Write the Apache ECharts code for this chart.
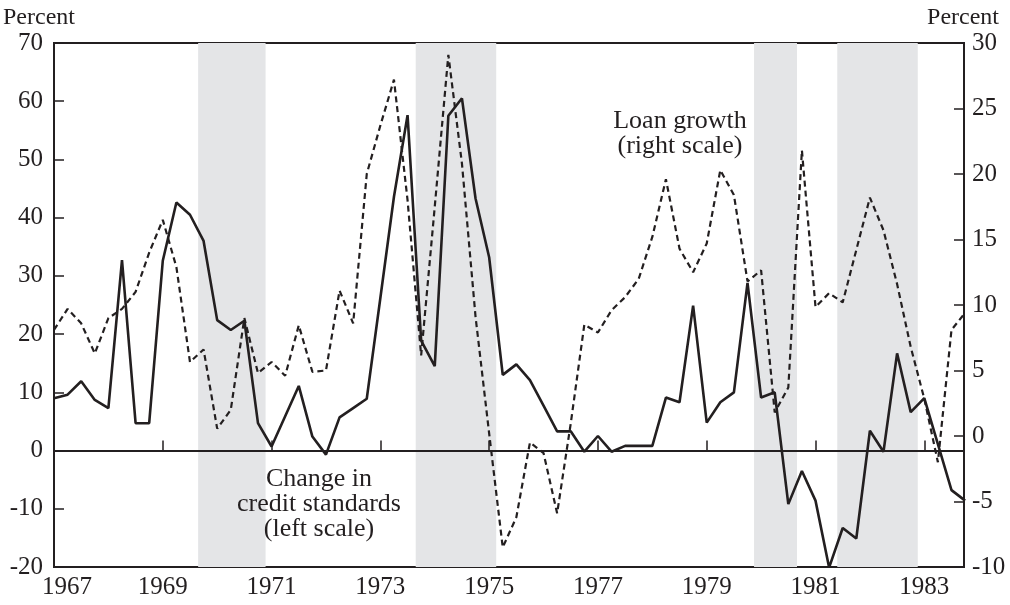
<!DOCTYPE html>
<html>
<head>
<meta charset="utf-8">
<script src="https://cdn.jsdelivr.net/npm/echarts@6/dist/echarts.min.js"></script>
<style>
  html, body { margin: 0; padding: 0; background: #fff; }
  #chart { width: 1010px; height: 605px; }
</style>
</head>
<body>
<div id="chart"></div>
<script>
// quarterly data, first quarter of 1967 onwards
const startYear = 1967
const yearLabels = [1967, 1969, 1971, 1973, 1975, 1977, 1979, 1981, 1983]
const leftTicks = [-20, -10, 0, 10, 20, 30, 40, 50, 60, 70]
const rightTicks = [-10, -5, 0, 5, 10, 15, 20, 25, 30]

// change in credit standards (left scale), percent
const creditStd = [
  9.0, 9.6, 11.9, 8.7,
  7.3, 32.7, 4.7, 4.7,
  32.6, 42.6, 40.5, 36.0,
  22.4, 20.7, 22.3, 4.7,
  0.7, 5.9, 11.1, 2.4,
  -0.7, 5.7, 7.3, 8.9,
  26.2, 43.6, 57.6, 18.9,
  14.5, 57.5, 60.5, 43.3,
  33.2, 13.0, 14.8, 12.1,
  7.7, 3.3, 3.3, -0.2,
  2.5, -0.2, 0.8, 0.8,
  0.8, 9.1, 8.3, 24.9,
  4.8, 8.3, 10.0, 28.8,
  9.1, 10.0, -9.2, -3.5,
  -8.6, -20.1, -13.3, -15.1,
  3.4, -0.2, 16.7, 6.6,
  9.0, 1.1, -6.8, -8.6
]

// loan growth (right scale), percent
const loanGrowth = [
  8.1, 9.7, 8.6, 6.3,
  9.0, 9.7, 11.0, 14.0,
  16.5, 12.9, 5.65, 6.6,
  0.56, 2.0, 9.0, 4.8,
  5.65, 4.6, 8.45, 4.9,
  5.0, 11.1, 8.6, 20.0,
  23.7, 27.2, 18.0, 6.15,
  17.5, 29.1, 20.8, 9.1,
  0.2, -8.5, -6.2, -0.5,
  -1.3, -5.9, 0.95, 8.5,
  7.9, 9.6, 10.6, 12.0,
  15.2, 19.6, 14.3, 12.5,
  14.7, 20.3, 18.4, 11.8,
  12.65, 1.8, 3.7, 21.8,
  9.85, 10.9, 10.2, 14.2,
  18.2, 15.7, 11.6, 6.8,
  2.85, -2.0, 8.1, 9.4
]

// recession shading
const recStart = [1969.65, 1973.65, 1979.87, 1981.40]
const recEnd = [1970.89, 1975.13, 1980.66, 1982.88]

const ink = '#231f20'
const serif = '"Liberation Serif", "Times New Roman", serif'

function toPairs(vals) {
  return vals.map((v, i) => [startYear + i / 4, v])
}

const chart = echarts.init(document.getElementById('chart'))

const option = {
  animation: false,
  backgroundColor: '#fff',
  grid: {
    left: 54,
    right: 46,
    top: 43,
    bottom: 38,
    show: true,
    borderColor: ink,
    borderWidth: 2
  },
  xAxis: {
    type: 'value',
    min: 1967,
    max: 1983.73,
    axisLine: { show: true, lineStyle: { color: ink, width: 2 } },
    axisTick: {
      show: true,
      inside: true,
      length: 10,
      lineStyle: { color: ink, width: 1.5 },
      customValues: yearLabels.slice(1)
    },
    axisLabel: {
      customValues: yearLabels,
      color: ink,
      fontFamily: serif,
      fontSize: 25,
      margin: 8,
      formatter: function (v) {
        return v === 1967 ? '{first|1967}' : String(v)
      },
      rich: {
        first: { padding: [0, 0, 0, 26], fontFamily: serif, fontSize: 25, color: ink }
      }
    },
    splitLine: { show: false }
  },
  yAxis: [
    {
      type: 'value',
      min: -20,
      max: 70,
      interval: 10,
      axisLine: { show: true, lineStyle: { color: ink, width: 2 } },
      axisTick: { show: true, inside: true, length: 10, lineStyle: { color: ink, width: 1.5 }, customValues: leftTicks },
      axisLabel: { color: ink, fontFamily: serif, fontSize: 25, margin: 11, customValues: leftTicks },
      splitLine: { show: false }
    },
    {
      type: 'value',
      position: 'right',
      min: -10,
      max: 30,
      interval: 5,
      axisLine: { show: true, lineStyle: { color: ink, width: 2 } },
      axisTick: { show: true, inside: true, length: 10, lineStyle: { color: ink, width: 1.5 }, customValues: rightTicks },
      axisLabel: { color: ink, fontFamily: serif, fontSize: 25, margin: 8, customValues: rightTicks },
      splitLine: { show: false }
    }
  ],
  series: [
    {
      name: 'Recessions',
      type: 'line',
      data: [],
      z: 0,
      markArea: {
        silent: true,
        z: 0,
        itemStyle: { color: '#e4e5e7' },
        data: recStart.map((s, i) => [{ xAxis: s }, { xAxis: recEnd[i] }])
      }
    },
    {
      name: 'Loan growth',
      type: 'line',
      yAxisIndex: 1,
      z: 3,
      symbol: 'none',
      lineStyle: { color: ink, width: 2.2, type: [6, 4] },
      data: toPairs(loanGrowth)
    },
    {
      name: 'Change in credit standards',
      type: 'line',
      yAxisIndex: 0,
      z: 4,
      symbol: 'none',
      lineStyle: { color: ink, width: 2.6 },
      data: toPairs(creditStd),
      markLine: {
        silent: true,
        z: 2,
        symbol: 'none',
        label: { show: false },
        lineStyle: { color: ink, width: 1.2, type: 'solid' },
        data: [{ yAxis: 0 }]
      }
    }
  ],
  graphic: [
    {
      type: 'text', left: 3, top: 6, z: 100,
      style: { text: 'Percent', fontFamily: serif, fontSize: 24, fill: ink }
    },
    {
      type: 'text', right: 11, top: 6, z: 100,
      style: { text: 'Percent', fontFamily: serif, fontSize: 24, fill: ink }
    },
    {
      type: 'text', x: 680, y: 134, z: 100,
      style: {
        text: 'Loan growth\n(right scale)',
        fontFamily: serif, fontSize: 26, lineHeight: 25,
        align: 'center', verticalAlign: 'middle', fill: ink
      }
    },
    {
      type: 'text', x: 319, y: 504, z: 100,
      style: {
        text: 'Change in\ncredit standards\n(left scale)',
        fontFamily: serif, fontSize: 26, lineHeight: 25,
        align: 'center', verticalAlign: 'middle', fill: ink
      }
    }
  ]
}

chart.setOption(option)
</script>
</body>
</html>
